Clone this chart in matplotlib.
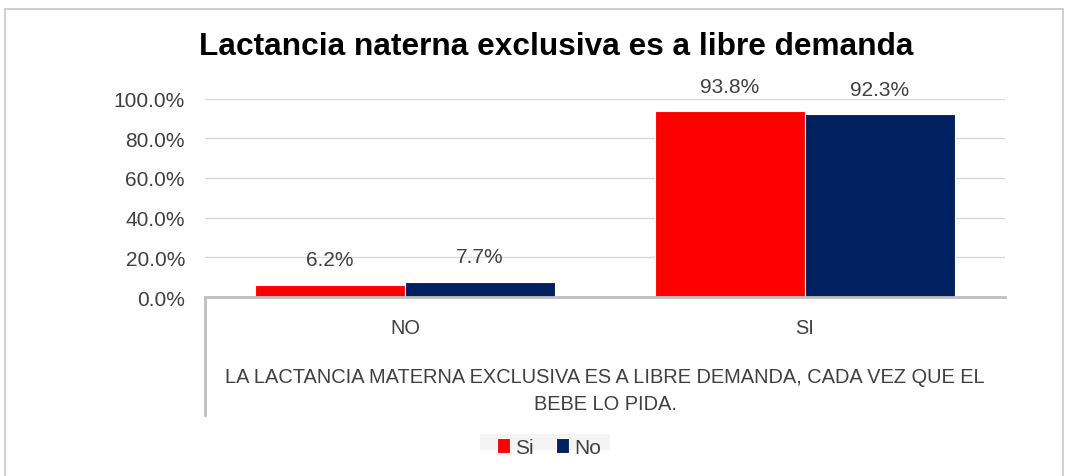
import matplotlib
matplotlib.use("Agg")
import matplotlib.pyplot as plt
from matplotlib.lines import Line2D
from matplotlib.patches import Rectangle
import numpy as np

categories = ["NO", "SI"]
series_names = ["Si", "No"]
si_values = [6.2, 93.8]
no_values = [7.7, 92.3]
y_ticks = [0, 20, 40, 60, 80, 100]

title = "Lactancia naterna exclusiva es a libre demanda"
axis_title = "LA LACTANCIA MATERNA EXCLUSIVA ES A LIBRE DEMANDA, CADA VEZ QUE EL\nBEBE LO PIDA."

RED = "#FF0000"
NAVY = "#002060"
TXT = "#404040"
GRID = "#D9D9D9"

plt.rcParams["font.family"] = ["Liberation Sans", "DejaVu Sans"]

W, H = 1069, 477
fig = plt.figure(figsize=(W / 100, H / 100), dpi=100)

def fx(px):
    return px / W

def fy(py):
    return 1 - py / H

# outer chart border
fig.add_artist(Rectangle((fx(5), fy(490)), fx(1063) - fx(5), fy(10) - fy(490),
                         transform=fig.transFigure, fill=False,
                         edgecolor="#C8C8C8", linewidth=1.2))

ax = fig.add_axes([fx(205), fy(298), fx(1005) - fx(205), fy(99.5) - fy(298)])

x = np.arange(len(categories))
bw = 0.375
b1 = ax.bar(x - bw / 2, si_values, bw, color=RED, edgecolor="white", linewidth=0.8, label=series_names[0])
b2 = ax.bar(x + bw / 2, no_values, bw, color=NAVY, edgecolor="white", linewidth=0.8, label=series_names[1])

for bars, vals in ((b1, si_values), (b2, no_values)):
    for rect, v in zip(bars, vals):
        ax.annotate(f"{v:.1f}%", (rect.get_x() + rect.get_width() / 2, v),
                    xytext=(0, 11), textcoords="offset points",
                    ha="center", va="bottom", fontsize=15, color=TXT)

ax.set_xlim(-0.5, 1.5)
ax.set_ylim(0, 100)
ax.set_yticks(y_ticks)
ax.set_yticklabels([f"{t:.1f}%" for t in y_ticks], fontsize=15, color=TXT)
ax.tick_params(axis="y", length=0, pad=14.4)
ax.yaxis.grid(True, color=GRID, linewidth=1)
ax.set_axisbelow(True)
for s in ax.spines.values():
    s.set_visible(False)

ax.set_xticks(x)
ax.set_xticklabels(categories, fontsize=14.4, color=TXT)
ax.tick_params(axis="x", length=0, pad=15)

# category axis frame
fig.add_artist(Line2D([fx(205), fx(1005)], [fy(298), fy(298)], transform=fig.transFigure,
                      color="#BFBFBF", linewidth=2))
fig.add_artist(Line2D([fx(205), fx(205)], [fy(298), fy(416)], transform=fig.transFigure,
                      color="#BFBFBF", linewidth=2))

fig.text(fx(605), fy(391), axis_title, ha="center", va="center", fontsize=14.4,
         color=TXT, linespacing=1.5)

fig.text(fx(556), fy(47), title, ha="center", va="center", fontsize=22.8,
         fontweight="bold", color="black")

# legend background band
fig.add_artist(Rectangle((fx(480), fy(451)), fx(610) - fx(480), fy(435) - fy(451),
                         transform=fig.transFigure, facecolor="#F4F4F4",
                         edgecolor="none", zorder=0))
leg = fig.legend(handles=[b1, b2], labels=series_names, loc="center",
                 bbox_to_anchor=(fx(549), fy(448)), ncol=2, frameon=False,
                 fontsize=15, handlelength=0.6, handleheight=0.7, handletextpad=0.25,
                 columnspacing=1.1, borderpad=0.2)
for t in leg.get_texts():
    t.set_color(TXT)

fig.savefig("out.png", dpi=100)
